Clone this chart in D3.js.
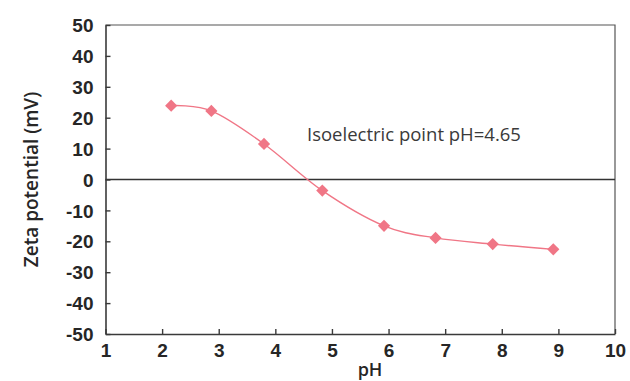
<!DOCTYPE html>
<html>
<head>
<meta charset="utf-8">
<script src="https://cdn.jsdelivr.net/npm/d3@7"></script>
<style>
  html, body { margin: 0; padding: 0; background: #fff; }
  svg { display: block; font-family: "Open Sans", "Noto Sans", sans-serif; }
</style>
</head>
<body>
<svg id="chart" width="630" height="381"></svg>
<script>
// Zeta potential measured across pH
const phValues   = [2.16, 2.87, 3.80, 4.83, 5.92, 6.83, 7.84, 8.91];
const zetaValues = [23.9, 22.2, 11.5, -3.6, -15.0, -18.9, -20.9, -22.6];
const xTicks = [1, 2, 3, 4, 5, 6, 7, 8, 9, 10];
const yTicks = [50, 40, 30, 20, 10, 0, -10, -20, -30, -40, -50];
const annotation = "Isoelectric point pH=4.65";

const svg = d3.select("#chart");
const plotL = 105.5, plotR = 615, plotT = 25, plotB = 334;

const x = d3.scaleLinear().domain([1, 10]).range([plotL, plotR]);
const y = d3.scaleLinear().domain([-50, 50]).range([plotB, plotT]);

const axisColor = "#3a3a3a";
const markColor = "#f07686";
const plainNum = d => String(d);   // plain hyphen for negatives

// frame: top and right borders
svg.append("path")
  .attr("d", `M${plotL},${plotT}H${plotR}V${plotB}`)
  .attr("fill", "none")
  .attr("stroke", "#555")
  .attr("stroke-width", 1.2);

// zero reference line
svg.append("line")
  .attr("x1", plotL).attr("x2", plotR)
  .attr("y1", y(0)).attr("y2", y(0))
  .attr("stroke", "#333")
  .attr("stroke-width", 1.3);

// y axis, ticks pointing into the plot
const yAxis = svg.append("g")
  .attr("transform", `translate(${plotL},0)`)
  .call(d3.axisLeft(y).tickValues(yTicks).tickFormat(plainNum)
    .tickSizeInner(-5).tickSizeOuter(0).tickPadding(12));
yAxis.select(".domain").attr("stroke", axisColor).attr("stroke-width", 1.6);
yAxis.selectAll(".tick line").attr("stroke", axisColor).attr("stroke-width", 1.4);
yAxis.selectAll(".tick text")
  .attr("font-size", 19).attr("font-weight", 600).attr("fill", "#262626")
  .attr("dy", "0.35em");

// x axis, ticks pointing up into the plot
const xAxis = svg.append("g")
  .attr("transform", `translate(0,${plotB})`)
  .call(d3.axisBottom(x).tickValues(xTicks).tickFormat(plainNum)
    .tickSizeInner(-5).tickSizeOuter(0).tickPadding(10));
xAxis.select(".domain").attr("stroke", axisColor).attr("stroke-width", 1.6);
xAxis.selectAll(".tick line").attr("stroke", axisColor).attr("stroke-width", 1.4);
xAxis.selectAll(".tick text")
  .attr("font-size", 19).attr("font-weight", 600).attr("fill", "#262626")
  .attr("dy", "0.71em");

// axis titles
svg.append("text")
  .attr("transform", `translate(38,${(plotT + plotB) / 2}) rotate(-90)`)
  .attr("text-anchor", "middle")
  .attr("font-size", 19).attr("font-weight", 600).attr("fill", "#262626")
  .text("Zeta potential (mV)");

svg.append("text")
  .attr("x", 370).attr("y", 376)
  .attr("text-anchor", "middle")
  .attr("font-size", 18).attr("font-weight", 600).attr("fill", "#262626")
  .text("pH");

// smoothed series line
const pts = phValues.map((p, i) => [p, zetaValues[i]]);
svg.append("path")
  .datum(pts)
  .attr("fill", "none")
  .attr("stroke", markColor)
  .attr("stroke-width", 1.4)
  .attr("d", d3.line().x(d => x(d[0])).y(d => y(d[1])).curve(d3.curveCardinal.tension(0)));

// diamond markers
svg.append("g").selectAll("path")
  .data(pts)
  .join("path")
  .attr("transform", d => `translate(${x(d[0])},${y(d[1])})`)
  .attr("d", d3.symbol().type(d3.symbolDiamond2).size(95))
  .attr("fill", markColor);

// annotation
svg.append("text")
  .attr("x", 307).attr("y", 141)
  .attr("font-size", 18.5).attr("fill", "#3a3a3a")
  .text(annotation);
</script>
</body>
</html>
